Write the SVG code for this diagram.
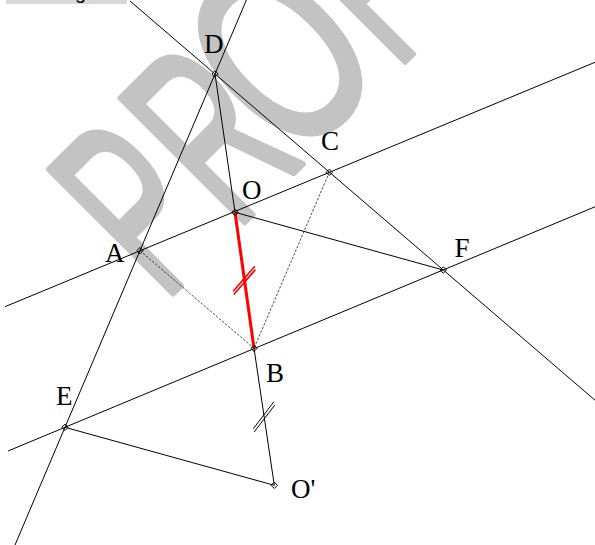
<svg xmlns="http://www.w3.org/2000/svg" width="595" height="545" viewBox="0 0 595 545">
<style>
.ln{stroke:#000;stroke-width:1;fill:none}
.dash{stroke:#000;stroke-width:0.7;fill:none;stroke-dasharray:2.5 1.5}
.red{stroke:#ff0000;stroke-width:3;fill:none}
.tickr{stroke:#ff0000;stroke-width:1.6;fill:none}
.tickb{stroke:#000;stroke-width:1;fill:none}
.pt{stroke:#000;stroke-width:1;fill:none}
.lbl{font-family:"Liberation Serif","Times New Roman",serif;font-size:27px;fill:#000}
.wm{font-family:"Liberation Sans",Arial,sans-serif;font-size:255px;fill:#c3c3c3;stroke:#c3c3c3;stroke-width:6;stroke-linejoin:round}
</style>
<defs>
<polygon id="dia" points="0,-3.2 3.2,0 0,3.2 -3.2,0"/>
</defs>
<rect x="6" y="0" width="121" height="4" fill="#d9d9d9"/>
<text x="75" y="-1.5" font-family="Liberation Sans,Arial,sans-serif" font-size="20" fill="#000">g</text>
<g id="watermark" transform="translate(233.3,233.3) rotate(-45)">
<text class="wm" transform="translate(-98,0) scale(0.56,1)">P</text>
<text class="wm" transform="translate(3,0) scale(0.56,1)">R</text>
<text class="wm" transform="translate(91.8,-4.6) scale(0.68,1)" style="font-size:258px">O</text>
<text class="wm" transform="translate(230,0) scale(0.56,1)">F</text>
</g>
<g id="connectors">
<line class="ln" x1="5" y1="306.7" x2="595" y2="62.3"/>
<line class="ln" x1="8" y1="451" x2="595" y2="206.8"/>
<line class="ln" x1="246.4" y1="0" x2="15" y2="545"/>
<line class="ln" x1="130" y1="1" x2="595" y2="400.2"/>
<line class="ln" x1="215" y1="74" x2="235" y2="212.3"/>
<line class="red" x1="235" y1="212.3" x2="254" y2="348.3"/>
<line class="ln" x1="254" y1="348.3" x2="274.3" y2="485.3"/>
<line class="ln" x1="235" y1="212.3" x2="443.3" y2="270"/>
<line class="ln" x1="65" y1="427.3" x2="274.3" y2="485.3"/>
<line class="dash" x1="140" y1="250.7" x2="254" y2="348.3"/>
<line class="dash" x1="329.3" y1="172.3" x2="254" y2="348.3"/>
<line class="tickr" x1="233.2" y1="291.2" x2="254.8" y2="266.2"/>
<line class="tickr" x1="233.8" y1="294.6" x2="255.4" y2="269.6"/>
<line class="tickb" x1="253.4" y1="428.6" x2="274" y2="401.6"/>
<line class="tickb" x1="254.2" y1="432" x2="274.8" y2="405"/>
</g>
<g id="D"><use href="#dia" class="pt" x="215" y="74"/><text class="lbl" x="204" y="53">D</text></g>
<g id="C"><use href="#dia" class="pt" x="329.3" y="172.3"/><text class="lbl" x="321" y="150">C</text></g>
<g id="O"><use href="#dia" class="pt" x="235" y="212.3"/><text class="lbl" x="242" y="198.5">O</text></g>
<g id="A"><use href="#dia" class="pt" x="140" y="250.7"/><text class="lbl" x="105" y="261.5">A</text></g>
<g id="F"><use href="#dia" class="pt" x="443.3" y="270"/><text class="lbl" x="454.5" y="257">F</text></g>
<g id="B"><use href="#dia" class="pt" x="254" y="348.3"/><text class="lbl" x="266" y="382">B</text></g>
<g id="E"><use href="#dia" class="pt" x="65" y="427.3"/><text class="lbl" x="56" y="405">E</text></g>
<g id="Op"><use href="#dia" class="pt" x="274.3" y="485.3"/><text class="lbl" x="291" y="497.5">O'</text></g>
</svg>
